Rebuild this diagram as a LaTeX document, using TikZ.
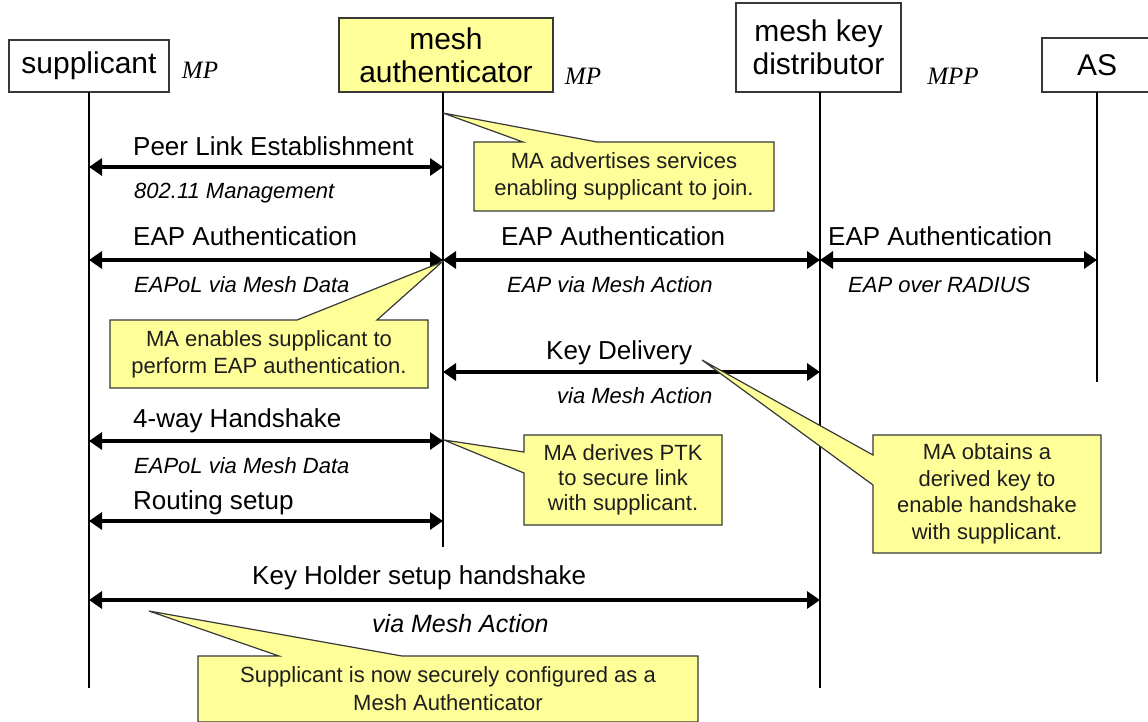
\documentclass[tikz,border=0pt]{standalone}
\usepackage{fontspec}
\setmainfont{Liberation Sans}
\newfontfamily\tmsfont{Liberation Serif}
\usetikzlibrary{arrows.meta}
\definecolor{noteyellow}{HTML}{FFFF99}
\definecolor{edgegray}{HTML}{383838}
\definecolor{notetxt}{HTML}{1E1E1E}
\begin{document}
\begin{tikzpicture}[x=1pt,y=-1pt,
  hdr/.style={draw=edgegray, line width=1.3pt, align=center, inner sep=0pt,
    font=\fontsize{30}{33}\selectfont},
  life/.style={line width=1.3pt},
  msg/.style={line width=4pt,
    {Triangle[length=13pt,width=17pt]}-{Triangle[length=13pt,width=17pt]}},
  lbl/.style={anchor=base west, inner sep=0pt, font=\fontsize{26}{30}\selectfont},
  sublbl/.style={anchor=base west, inner sep=0pt, font=\fontsize{22}{26}\selectfont\itshape},
  role/.style={inner sep=0pt, font=\tmsfont\itshape\fontsize{25}{28}\selectfont},
  callout/.style={fill=noteyellow, draw=edgegray, line width=1.2pt, line join=miter},
  notetext/.style={align=center, inner sep=0pt, text=notetxt,
    font=\fontsize{22}{27}\selectfont}
]
\useasboundingbox (0,0) rectangle (1148,721);
\fill[white] (0,0) rectangle (1148,721);
\clip (0,0) rectangle (1148,721);

% header boxes
\node[hdr, minimum width=160pt, minimum height=52pt] (sup) at (89,66) {supplicant};
\node[hdr, fill=noteyellow, minimum width=214pt, minimum height=74pt] (ma) at (446,55) {mesh\\authenticator};
\node[hdr, minimum width=165pt, minimum height=89pt] (mkd) at (818.5,47.5) {mesh key\\distributor};
\node[hdr, minimum width=110pt, minimum height=54pt] (as) at (1097,65) {AS};

\node[role] (mp1) at (200,70) {MP};
\node[role] (mp2) at (583,76) {MP};
\node[role] (mpp) at (953,76) {MPP};

% lifelines
\coordinate (supTop) at (89,92);  \coordinate (supEnd) at (89,688);
\coordinate (maTop) at (443,92);  \coordinate (maEnd) at (443,547);
\coordinate (mkdTop) at (820,92); \coordinate (mkdEnd) at (820,688);
\coordinate (asTop) at (1097,92); \coordinate (asEnd) at (1097,382);
\draw[life] (supTop) -- (supEnd);
\draw[life] (maTop) -- (maEnd);
\draw[life] (mkdTop) -- (mkdEnd);
\draw[life] (asTop) -- (asEnd);

% message points
\coordinate (s1) at (89,167);  \coordinate (m1) at (443,167);
\coordinate (s2) at (89,260);  \coordinate (m2) at (443,260);
\coordinate (k2) at (820,260); \coordinate (a2) at (1097,260);
\coordinate (m3) at (443,372); \coordinate (k3) at (820,372);
\coordinate (s4) at (89,441);  \coordinate (m4) at (443,441);
\coordinate (s5) at (89,521);  \coordinate (m5) at (443,521);
\coordinate (s6) at (89,600);  \coordinate (k6) at (820,600);

\draw[msg] (s1) -- (m1);
\draw[msg] (s2) -- (m2);
\draw[msg] (m2) -- (k2);
\draw[msg] (k2) -- (a2);
\draw[msg] (m3) -- (k3);
\draw[msg] (s4) -- (m4);
\draw[msg] (s5) -- (m5);
\draw[msg] (s6) -- (k6);

% message labels
\node[lbl] (l1) at (133,155) {Peer Link Establishment};
\node[sublbl] (l1b) at (134,198) {802.11 Management};
\node[lbl] (l2) at (133,245) {EAP Authentication};
\node[sublbl] (l2b) at (134,292) {EAPoL via Mesh Data};
\node[lbl] (l3) at (501,245) {EAP Authentication};
\node[sublbl] (l3b) at (507,292) {EAP via Mesh Action};
\node[lbl] (l4) at (828,245) {EAP Authentication};
\node[sublbl] (l4b) at (848,292) {EAP over RADIUS};
\node[lbl] (l5) at (546,359) {Key Delivery};
\node[sublbl] (l5b) at (557,403) {via Mesh Action};
\node[lbl] (l6) at (133,427) {4-way Handshake};
\node[sublbl] (l6b) at (134,473) {EAPoL via Mesh Data};
\node[lbl] (l7) at (133,509) {Routing setup};
\node[lbl] (l8) at (252,584) {Key Holder setup handshake};
\node[sublbl, font=\fontsize{25}{28}\selectfont\itshape] (l8b) at (372,632) {via Mesh Action};

% callouts
\draw[callout] (474,142) -- (523,142) -- (443,113) -- (597,142) -- (774,142)
  -- (774,211) -- (474,211) -- cycle;
\node[notetext] (nA) at (624,176.5) {MA advertises services\\enabling supplicant to join.};

\draw[callout] (110,320) -- (297,320) -- (442,262) -- (377,320) -- (428,320)
  -- (428,388) -- (110,388) -- cycle;
\node[notetext] (nB) at (269,354) {MA enables supplicant to\\perform EAP authentication.};

\draw[callout] (524,435) -- (722,435) -- (722,525) -- (524,525) -- (524,473)
  -- (444,440) -- (524,452) -- cycle;
\node[notetext, font=\fontsize{22}{25}\selectfont] (nC) at (623,480) {MA derives PTK\\to secure link\\with supplicant.};

\draw[callout] (873,435) -- (1101,435) -- (1101,553) -- (873,553) -- (873,485)
  -- (702,360) -- (873,455) -- cycle;
\node[notetext, font=\fontsize{22}{26.5}\selectfont] (nD) at (987,494) {MA obtains a\\derived key to\\enable handshake\\with supplicant.};

\draw[callout] (198,656) -- (279,656) -- (149,611) -- (402,656) -- (698,656)
  -- (698,722) -- (198,722) -- cycle;
\node[notetext, font=\fontsize{22}{28}\selectfont] (nE) at (448,689) {Supplicant is now securely configured as a\\Mesh Authenticator};
\end{tikzpicture}
\end{document}
